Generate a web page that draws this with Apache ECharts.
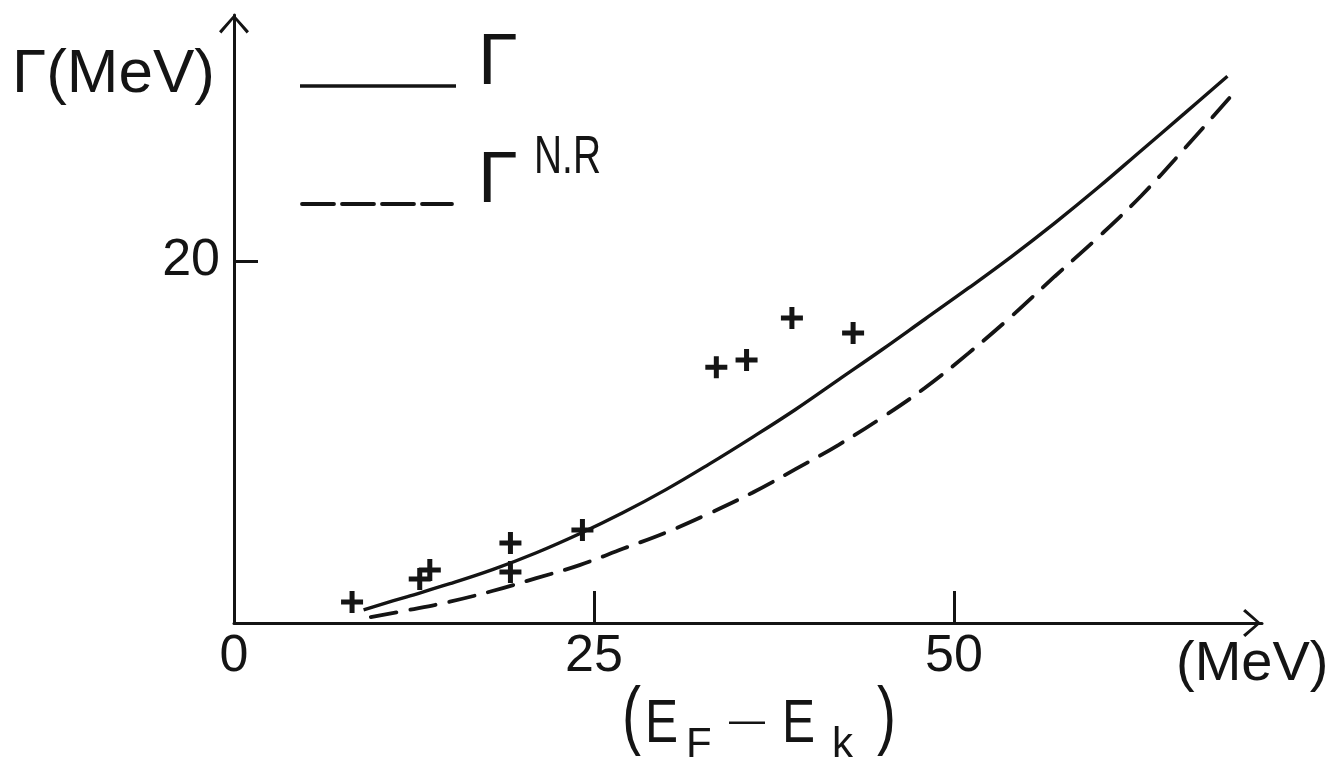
<!DOCTYPE html>
<html>
<head>
<meta charset="utf-8">
<script src="https://cdn.jsdelivr.net/npm/echarts@6/dist/echarts.min.js"></script>
<style>
  html, body { margin: 0; padding: 0; background: #fff; }
  #main { width: 1344px; height: 767px; }
</style>
</head>
<body>
<div id="main"></div>
<script>
// 曲线 Γ (实线) 与 Γ^N.R (虚线), 以及实验点 (+)
var gammaX = [9, 12, 15, 18, 21, 24, 27, 30, 33, 36, 39, 42, 45, 48, 51, 54, 57, 60, 63, 66, 69];
var gammaY = [0.73, 1.45, 2.17, 2.96, 3.88, 4.93, 6.09, 7.37, 8.78, 10.26, 11.8, 13.45, 15.1, 16.8, 18.5, 20.25, 22.1, 24.05, 26.1, 28.15, 30.22];

var nrX = [9.5, 12, 15, 18, 21, 24, 27, 30, 33, 36, 39, 42, 45, 48, 51, 54, 57, 60, 63, 66, 69.5];
var nrY = [0.33, 0.70, 1.18, 1.78, 2.48, 3.2, 4.1, 5.0, 6.05, 7.2, 8.5, 9.85, 11.35, 13.0, 14.9, 16.95, 19.15, 21.3, 23.6, 26.2, 29.34];

var expX = [8.2, 12.9, 13.6, 19.2, 19.2, 24.2, 33.5, 35.6, 38.75, 43.0];
var expY = [1.16, 2.43, 2.93, 4.42, 2.82, 5.14, 14.14, 14.53, 16.85, 16.02];

var xTicks = [25, 50];
var xLabels = [0, 25, 50];
var yTicks = [20];

function pairs(xs, ys) {
  var out = [];
  for (var i = 0; i < xs.length; i++) out.push([xs[i], ys[i]]);
  return out;
}

var myChart = echarts.init(document.getElementById('main'));
var ink = '#141414';
var font = "'Liberation Sans', Arial, sans-serif";
// 空心箭头 (^ 形)
var chevron = 'path://M16,0 L32,18 L29.5,20.5 L16,4.5 L2.5,20.5 L0,18 Z';
var plus = 'path://M8.5,0 L13.5,0 L13.5,8.5 L22,8.5 L22,13.5 L13.5,13.5 L13.5,22 L8.5,22 L8.5,13.5 L0,13.5 L0,8.5 L8.5,8.5 Z';

function txt(x, y, s, size, extra) {
  var el = { type: 'text', x: x, y: y, style: { text: s, font: size + 'px ' + font, fill: ink } };
  if (extra) for (var k in extra) el[k] = extra[k];
  return el;
}

var option = {
  backgroundColor: '#fff',
  animation: false,
  grid: { left: 234, right: 82, top: 15, bottom: 144, containLabel: false },
  xAxis: {
    type: 'value', min: 0, max: 71.4,
    splitLine: { show: false },
    axisLine: { lineStyle: { color: ink, width: 3 }, symbol: ['none', chevron], symbolSize: [28, 20], symbolOffset: [0, -10] },
    axisTick: { inside: true, length: 32, lineStyle: { color: ink, width: 3 }, customValues: xTicks },
    axisLabel: { customValues: xLabels, color: ink, fontSize: 52, fontFamily: font, margin: 8 }
  },
  yAxis: {
    type: 'value', min: 0, max: 33.6,
    splitLine: { show: false },
    axisLine: { lineStyle: { color: ink, width: 3 }, symbol: ['none', chevron], symbolSize: [30, 20], symbolOffset: [0, -9] },
    axisTick: { inside: true, length: 24, lineStyle: { color: ink, width: 3 }, customValues: yTicks },
    axisLabel: { customValues: yTicks, color: ink, fontSize: 52, fontFamily: font, margin: 14 }
  },
  series: [
    {
      name: 'Γ', type: 'line', data: pairs(gammaX, gammaY), smooth: 0.4,
      symbol: 'none', lineStyle: { color: ink, width: 3.4 }
    },
    {
      name: 'ΓNR', type: 'line', data: pairs(nrX, nrY), smooth: 0.4,
      symbol: 'none', lineStyle: { color: ink, width: 3.8, type: [26, 14], cap: 'round' }
    },
    {
      name: 'exp', type: 'scatter', data: pairs(expX, expY),
      symbol: plus, symbolSize: 22, itemStyle: { color: ink, opacity: 1 }
    }
  ],
  graphic: [
    txt(12, 44, 'Γ(MeV)', 62),
    { type: 'line', shape: { x1: 300, y1: 86, x2: 456, y2: 86 }, style: { stroke: ink, lineWidth: 3.4 } },
    txt(478, 28, 'Γ', 72),
    { type: 'line', shape: { x1: 302, y1: 204, x2: 452, y2: 204 }, style: { stroke: ink, lineWidth: 3.8, lineDash: [32, 8], lineCap: 'round' } },
    txt(478, 146, 'Γ', 72),
    txt(534, 131, 'N.R', 54, { scaleX: 0.72 }),
    txt(1176, 637, '(MeV)', 56),
    // (E_F — E_k)
    txt(622, 681, '(', 76, { scaleX: 0.75 }),
    txt(645, 694, 'E', 62, { scaleX: 0.8 }),
    txt(686, 724, 'F', 42),
    txt(729, 704, '—', 36),
    txt(782, 694, 'E', 62, { scaleX: 0.8 }),
    txt(832, 724, 'k', 42),
    txt(877, 681, ')', 76, { scaleX: 0.75 })
  ]
};
myChart.setOption(option);
</script>
</body>
</html>
